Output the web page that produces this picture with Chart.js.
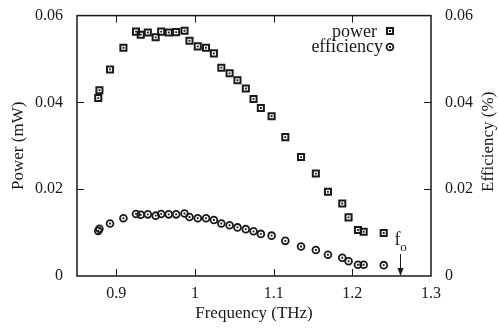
<!DOCTYPE html>
<html>
<head>
<meta charset="utf-8">
<script src="https://cdn.jsdelivr.net/npm/chart.js@4"></script>
<style>
  html, body { margin: 0; padding: 0; background: #fff; }
  #wrap { width: 498px; height: 329px; }
</style>
</head>
<body>
<div id="wrap"><canvas id="freq-chart" width="498" height="329"></canvas></div>
<script>
// frequency (THz) of each measurement
const freq = [0.877, 0.8785, 0.892, 0.909, 0.925, 0.931, 0.940, 0.950, 0.957, 0.9666, 0.976, 0.9867,
  0.993, 1.0035, 1.014, 1.024, 1.0335, 1.044, 1.054, 1.0646, 1.0744, 1.0837, 1.0974, 1.1148,
  1.1348, 1.1536, 1.169, 1.1872, 1.1952, 1.2072, 1.2144, 1.2399];
// output power (mW)
const power = [0.0410, 0.0428, 0.0476, 0.0526, 0.0563, 0.0556, 0.0561, 0.0550, 0.0563, 0.0561, 0.0562, 0.0565,
  0.0542, 0.0529, 0.0526, 0.0513, 0.0480, 0.0467, 0.0451, 0.0432, 0.0408, 0.0387, 0.0368, 0.0320,
  0.0274, 0.0236, 0.0194, 0.0167, 0.0135, 0.0106, 0.0102, 0.0099];
// efficiency (%)
const efficiency = [0.0104, 0.0109, 0.0121, 0.0133, 0.0143, 0.0141, 0.0142, 0.0139, 0.0143, 0.0142, 0.0142, 0.0144,
  0.0136, 0.0133, 0.0133, 0.0129, 0.0121, 0.0117, 0.0112, 0.0108, 0.0103, 0.0097, 0.0093, 0.0081,
  0.0068, 0.0060, 0.0049, 0.0042, 0.0034, 0.0026, 0.0026, 0.0025];

const xTicks = [0.9, 1, 1.1, 1.2, 1.3];
const yTicks = [0, 0.02, 0.04, 0.06];
const fo = 1.26;

const ink = '#1a1a1a';
const serif = "'Liberation Serif', 'DejaVu Serif', serif";

const fixTicks = list => scale => { scale.ticks = list.map(v => ({ value: v })); };
const fmt = v => v === 0 ? '0' : String(Math.round(v * 100) / 100);
const pts = vals => freq.map((f, i) => ({ x: f, y: vals[i] }));

// frame, inward ticks, legend, f_o marker, right title
const decor = {
  id: 'decor',
  afterDraw(chart) {
    const { ctx, chartArea: a, scales: { x, y } } = chart;
    ctx.save();
    ctx.strokeStyle = ink;
    ctx.lineWidth = 1.5;
    ctx.strokeRect(a.left, a.top, a.right - a.left, a.bottom - a.top);
    ctx.lineWidth = 1;
    ctx.beginPath();
    xTicks.slice(0, -1).forEach(v => {
      const px = Math.round(x.getPixelForValue(v)) + 0.5;
      ctx.moveTo(px, a.bottom); ctx.lineTo(px, a.bottom - 7);
      ctx.moveTo(px, a.top); ctx.lineTo(px, a.top + 7);
    });
    yTicks.slice(1, -1).forEach(v => {
      const py = Math.round(y.getPixelForValue(v)) + 0.5;
      ctx.moveTo(a.left, py); ctx.lineTo(a.left + 7, py);
      ctx.moveTo(a.right, py); ctx.lineTo(a.right - 7, py);
    });
    ctx.stroke();

    // legend
    ctx.fillStyle = ink;
    ctx.font = '18px ' + serif;
    ctx.textAlign = 'right';
    ctx.textBaseline = 'middle';
    ctx.fillText('power', 377, 32);
    ctx.fillText('efficiency', 383, 47);
    ctx.lineWidth = 2;
    ctx.strokeRect(387, 28, 6, 6);
    ctx.fillRect(389, 30, 2, 2);
    ctx.lineWidth = 1.8;
    ctx.beginPath(); ctx.arc(390, 47, 3.4, 0, Math.PI * 2); ctx.stroke();
    ctx.fillRect(389, 46, 2, 2);

    // f_o marker
    const fx = Math.round(x.getPixelForValue(fo)) + 0.5;
    ctx.textAlign = 'center';
    ctx.font = '18px ' + serif;
    ctx.fillText('f', fx - 3, 240);
    ctx.font = '13px ' + serif;
    ctx.fillText('o', fx + 3, 248);
    ctx.lineWidth = 1;
    ctx.beginPath();
    ctx.moveTo(fx, 254); ctx.lineTo(fx, a.bottom - 6);
    ctx.stroke();
    ctx.beginPath();
    ctx.moveTo(fx - 3, a.bottom - 8); ctx.lineTo(fx + 3, a.bottom - 8); ctx.lineTo(fx, a.bottom);
    ctx.closePath(); ctx.fill();

    // right axis title, reading upward
    ctx.save();
    ctx.translate(489, (a.top + a.bottom) / 2 - 4);
    ctx.rotate(-Math.PI / 2);
    ctx.font = '17px ' + serif;
    ctx.textAlign = 'center';
    ctx.fillText('Efficiency (%)', 0, 0);
    ctx.restore();
    ctx.restore();
  }
};

const dot = { order: -1, pointStyle: 'rect', pointRadius: 1.3, pointBorderWidth: 0, pointBackgroundColor: ink };

new Chart(document.getElementById('freq-chart').getContext('2d'), {
  type: 'scatter',
  data: {
    datasets: [{
      label: 'power',
      data: pts(power),
      pointStyle: 'rect', pointRadius: 4.3, pointBorderWidth: 2,
      pointBorderColor: ink, pointBackgroundColor: 'rgba(255,255,255,0)',
      yAxisID: 'y',
    }, {
      label: 'efficiency',
      data: pts(efficiency),
      pointStyle: 'circle', pointRadius: 3.4, pointBorderWidth: 1.8,
      pointBorderColor: ink, pointBackgroundColor: 'rgba(255,255,255,0)',
      yAxisID: 'y1',
    }, {
      label: 'power-dot', data: pts(power), yAxisID: 'y', ...dot
    }, {
      label: 'efficiency-dot', data: pts(efficiency), yAxisID: 'y1', ...dot
    }]
  },
  options: {
    responsive: false,
    animation: false,
    layout: { padding: { top: 15, left: 0, right: 0, bottom: 0 } },
    plugins: { legend: { display: false }, tooltip: { enabled: false } },
    scales: {
      x: {
        type: 'linear', min: 0.85, max: 1.3,
        afterBuildTicks: fixTicks(xTicks),
        afterFit: s => { s.height = 53; },
        grid: { display: false }, border: { display: false },
        ticks: { color: ink, font: { family: serif, size: 16 }, padding: 0, callback: fmt, maxRotation: 0 },
        title: { display: true, text: 'Frequency (THz)', color: ink, font: { family: serif, size: 17 }, padding: { top: 0, bottom: 5 } }
      },
      y: {
        position: 'left', min: 0, max: 0.06,
        afterBuildTicks: fixTicks(yTicks),
        afterFit: s => { s.width = 77; },
        grid: { display: false }, border: { display: false },
        ticks: { color: ink, font: { family: serif, size: 16 }, padding: 6, callback: fmt },
        title: { display: true, text: 'Power (mW)', color: ink, font: { family: serif, size: 17 }, padding: { top: 8, bottom: 8 } }
      },
      y1: {
        position: 'right', min: 0, max: 0.06,
        afterBuildTicks: fixTicks(yTicks),
        afterFit: s => { s.width = 67; },
        grid: { display: false }, border: { display: false },
        ticks: { color: ink, font: { family: serif, size: 16 }, padding: 6, callback: fmt }
      }
    }
  },
  plugins: [decor]
});
</script>
</body>
</html>
